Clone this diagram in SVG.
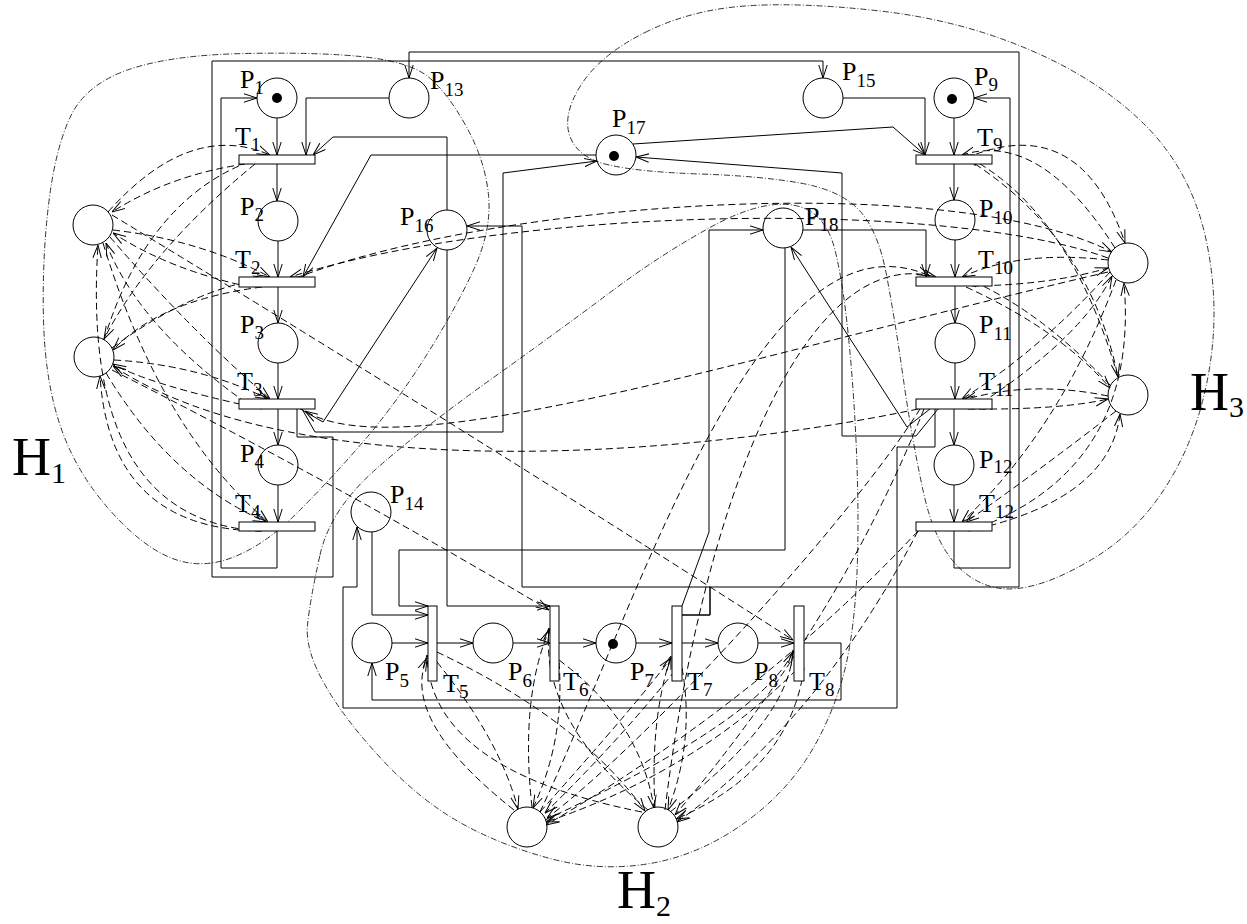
<svg xmlns="http://www.w3.org/2000/svg" width="1247" height="924" viewBox="0 0 1247 924">
<style>
.pl{fill:none;stroke:#000;stroke-width:1}
.tr{fill:#fff;stroke:#000;stroke-width:1}
.ln{fill:none;stroke:#000;stroke-width:1;marker-end:url(#ah)}
.da{fill:none;stroke:#000;stroke-width:1;stroke-dasharray:7 4;marker-end:url(#ah)}
.dd{fill:none;stroke:#333;stroke-width:1;stroke-dasharray:6 2 1 2}
.lb{font-family:"Liberation Serif",serif;font-size:26px;fill:#000}
.sb{font-size:19px}
.hl{font-family:"Liberation Serif",serif;font-size:54px;fill:#000}
.hs{font-size:30px}
</style>
<defs>
<marker id="ah" viewBox="0 0 13 10" refX="13" refY="5" markerWidth="13" markerHeight="10" markerUnits="userSpaceOnUse" orient="auto">
<path d="M0,0.8 L13,5 L0,9.2" fill="none" stroke="#000" stroke-width="1" stroke-dasharray="none"/>
</marker>
</defs>
<rect width="1247" height="924" fill="#fff"/>

<g id="boundaries">
<path id="H1-boundary" class="dd" d="M 428.5,77 Q 447,92 466,126 Q 485,160 488.5,195 Q 492,230 473.5,270 Q 455,310 425,357.5 Q 395,405 362.5,442.5 Q 330,480 297.5,512.5 Q 265,545 232.5,557.5 Q 200,570 170,557.5 Q 140,545 107.5,507.5 Q 75,470 60,425 Q 45,380 43.5,320 Q 42,260 48.5,205 Q 55,150 70,117.5 Q 85,85 127.5,70 Q 170,55 245,53.5 Q 320,52 365,57 Q 410,62 428.5,77 Z"/>
<path id="H2-boundary" class="dd" d="M 320,555 Q 330,510 375,470 Q 420,430 490,380 Q 560,330 610,292.5 Q 660,255 710,227.5 Q 760,200 792.5,205 Q 825,210 835,250 Q 845,290 851.5,370 Q 858,450 858,525 Q 858,600 849,650 Q 840,700 815,745 Q 790,790 745,822.5 Q 700,855 650,863.5 Q 600,872 550,858.5 Q 500,845 460,822.5 Q 420,800 382.5,760 Q 345,720 325,685 Q 305,650 307.5,625 Q 310,600 320,555 Z"/>
<path id="H3-boundary" class="dd" d="M 645,32.5 Q 690,10 745,6 Q 800,2 880,11 Q 960,20 1030,50 Q 1100,80 1145,125 Q 1190,170 1205,235 Q 1220,300 1210,365 Q 1200,430 1170,480 Q 1140,530 1095,557.5 Q 1050,585 1017.5,588.5 Q 985,592 960,568.5 Q 935,545 923.5,492.5 Q 912,440 903.5,380 Q 895,320 886.5,275 Q 878,230 859,210 Q 840,190 800,183 Q 760,176 700,174 Q 640,172 609,165 Q 578,158 570,136.5 Q 562,115 581,85 Q 600,55 645,32.5 Z"/>
</g>

<g id="connectors">
<path class="da" d="M 108,212 Q 190,120 270,155"/>
<path class="da" d="M 104,340 Q 150,190 266,156"/>
<path class="da" d="M 113,230 Q 200,240 270,277"/>
<path class="da" d="M 112,348 Q 190,290 266,278"/>
<path class="da" d="M 110,237 Q 190,330 270,399"/>
<path class="da" d="M 114,360 Q 200,365 268,399"/>
<path class="da" d="M 103,243 Q 160,430 268,522"/>
<path class="da" d="M 106,373 Q 170,480 266,522"/>
<path class="da" d="M 245,164 Q 170,175 112,212"/>
<path class="da" d="M 255,164 Q 150,250 104,339"/>
<path class="da" d="M 250,287 Q 170,270 113,233"/>
<path class="da" d="M 262,287 Q 160,300 113,350"/>
<path class="da" d="M 255,409 Q 140,330 106,243"/>
<path class="da" d="M 262,409 Q 150,385 113,364"/>
<path class="da" d="M 260,531 Q 80,520 98,245"/>
<path class="da" d="M 262,531 Q 110,530 100,376"/>
<path class="da" d="M 1115,248 Q 1040,130 962,155"/>
<path class="da" d="M 1118,377 Q 1070,210 966,156"/>
<path class="da" d="M 1108,260 Q 1020,250 962,277"/>
<path class="da" d="M 1110,385 Q 1040,310 966,278"/>
<path class="da" d="M 1110,272 Q 1040,350 962,399"/>
<path class="da" d="M 1108,396 Q 1030,380 964,400"/>
<path class="da" d="M 1116,280 Q 1060,430 962,522"/>
<path class="da" d="M 1116,411 Q 1040,470 966,522"/>
<path class="da" d="M 966,158 Q 1080,110 1125,243"/>
<path class="da" d="M 975,164 Q 1090,240 1118,377"/>
<path class="da" d="M 972,286 Q 1050,285 1108,268"/>
<path class="da" d="M 966,287 Q 1060,330 1110,388"/>
<path class="da" d="M 972,409 Q 1080,340 1112,276"/>
<path class="da" d="M 968,409 Q 1060,410 1108,399"/>
<path class="da" d="M 970,531 Q 1140,470 1124,283"/>
<path class="da" d="M 968,531 Q 1110,500 1120,414"/>
<path class="da" d="M 514,810 Q 400,720 427,658"/>
<path class="da" d="M 642,812 Q 430,770 427,655"/>
<path class="da" d="M 532,807 Q 520,700 549,630"/>
<path class="da" d="M 648,810 Q 540,720 549,628"/>
<path class="da" d="M 540,812 Q 640,700 671,658"/>
<path class="da" d="M 655,807 Q 650,720 671,656"/>
<path class="da" d="M 545,820 Q 760,720 793,652"/>
<path class="da" d="M 670,812 Q 790,720 793,650"/>
<path class="da" d="M 437,662 Q 500,740 518,809"/>
<path class="da" d="M 437,652 Q 580,720 645,811"/>
<path class="da" d="M 559,662 Q 565,740 533,808"/>
<path class="da" d="M 559,660 Q 640,720 654,808"/>
<path class="da" d="M 682,662 Q 620,740 545,813"/>
<path class="da" d="M 682,668 Q 695,740 668,810"/>
<path class="da" d="M 804,662 Q 700,770 546,822"/>
<path class="da" d="M 804,668 Q 790,770 676,819"/>
<path class="da" d="M 296,278 C 500,200 950,170 1112,252"/>
<path class="da" d="M 1108,258 C 950,200 520,205 290,277"/>
<path class="da" d="M 1108,272 C 750,355 400,470 305,411"/>
<path class="da" d="M 918,409 C 700,455 300,490 113,366"/>
<path class="da" d="M 112,215 Q 450,420 793,640"/>
<path class="da" d="M 112,370 Q 330,480 549,610"/>
<path class="da" d="M 540,812 C 640,600 760,200 930,276"/>
<path class="da" d="M 665,810 C 700,520 800,240 936,277"/>
<path class="da" d="M 920,409 C 850,520 650,740 547,818"/>
<path class="da" d="M 924,409 Q 840,620 675,815"/>
<path class="da" d="M 918,531 Q 760,700 546,825"/>
<path class="da" d="M 918,531 Q 820,720 677,822"/>

<path class="ln" d="M 277,118 L 277,155"/>
<path class="ln" d="M 277,164 L 277,201"/>
<path class="ln" d="M 278,241 L 278,277"/>
<path class="ln" d="M 278,287 L 278,323"/>
<path class="ln" d="M 278,363 L 278,399"/>
<path class="ln" d="M 278,409 L 278,445"/>
<path class="ln" d="M 278,485 L 278,522"/>
<path class="ln" d="M 954,118 L 954,155"/>
<path class="ln" d="M 954,164 L 954,200"/>
<path class="ln" d="M 955,240 L 955,277"/>
<path class="ln" d="M 955,286 L 955,323"/>
<path class="ln" d="M 955,363 L 955,399"/>
<path class="ln" d="M 954,409 L 954,445"/>
<path class="ln" d="M 954,485 L 954,522"/>
<path class="ln" d="M 392,643 L 428,643"/>
<path class="ln" d="M 437,643 L 473,643"/>
<path class="ln" d="M 513,643 L 550,643"/>
<path class="ln" d="M 559,643 L 596,643"/>
<path class="ln" d="M 636,643 L 672,643"/>
<path class="ln" d="M 682,643 L 718,643"/>
<path class="ln" d="M 758,643 L 794,643"/>
<path class="ln" d="M 596,155 L 371,155 L 303,277"/>
<path class="ln" d="M 302,409 L 315,432 L 503,432 L 503,173 L 597,161"/>
<path class="ln" d="M 633,144 L 893,127 L 925,155"/>
<path class="ln" d="M 938,409 L 916,436 L 842,436 L 842,173 L 636,157"/>
<path class="ln" d="M 297,409 L 297,437 L 333,437 L 333,577 L 212,577 L 212,61 L 823,61 L 823,78"/>
<path class="ln" d="M 682,615 L 710,615 L 710,587 L 1019,587 L 1019,52 L 409,52 L 409,78"/>
<path class="ln" d="M 682,615 L 710,615 L 710,587 L 522,587 L 522,226 L 467,226"/>
<path class="ln" d="M 447,210 L 447,137 L 333,137 L 313,155"/>
<path class="ln" d="M 389,98 L 306,98 L 306,155"/>
<path class="ln" d="M 277,531 L 277,568 L 221,568 L 221,98 L 257,98"/>
<path class="ln" d="M 297,407 L 323,422 L 437,248"/>
<path class="ln" d="M 447,250 L 447,606 L 550,606"/>
<path class="ln" d="M 372,532 L 372,615 L 428,615"/>
<path class="ln" d="M 785,248 L 785,550 L 399,550 L 399,606 L 428,606"/>
<path class="ln" d="M 935,409 L 935,447 L 897,447 L 897,708 L 343,708 L 343,587 L 357,587 L 357,527"/>
<path class="ln" d="M 804,643 L 841,643 L 841,700 L 372,700 L 372,663"/>
<path class="ln" d="M 935,405 L 907,427 L 791,247"/>
<path class="ln" d="M 843,98 L 925,98 L 925,155"/>
<path class="ln" d="M 954,531 L 954,568 L 1010,568 L 1010,98 L 974,98"/>
<path class="ln" d="M 803,230 L 926,230 L 926,277"/>
<path class="ln" d="M 682,606 L 709,532 L 709,230 L 763,230"/>
</g>

<g id="P1"><circle class="pl" cx="277" cy="98" r="20"/><circle cx="277" cy="98" r="5"/><text class="lb" x="240" y="88">P<tspan class="sb" dy="6">1</tspan></text></g>
<g id="P2"><circle class="pl" cx="278" cy="221" r="20"/><text class="lb" x="240" y="215">P<tspan class="sb" dy="6">2</tspan></text></g>
<g id="P3"><circle class="pl" cx="278" cy="343" r="20"/><text class="lb" x="240" y="333">P<tspan class="sb" dy="6">3</tspan></text></g>
<g id="P4"><circle class="pl" cx="278" cy="465" r="20"/><text class="lb" x="240" y="462">P<tspan class="sb" dy="6">4</tspan></text></g>
<g id="T1"><rect class="tr" x="239" y="155" width="76" height="9"/><text class="lb" x="235" y="145">T<tspan class="sb" dy="6">1</tspan></text></g>
<g id="T2"><rect class="tr" x="239" y="277" width="76" height="10"/><text class="lb" x="235" y="268">T<tspan class="sb" dy="6">2</tspan></text></g>
<g id="T3"><rect class="tr" x="239" y="399" width="76" height="10"/><text class="lb" x="237" y="390">T<tspan class="sb" dy="6">3</tspan></text></g>
<g id="T4"><rect class="tr" x="239" y="522" width="76" height="9"/><text class="lb" x="235" y="512">T<tspan class="sb" dy="6">4</tspan></text></g>
<g id="P13"><circle class="pl" cx="409" cy="98" r="20"/><text class="lb" x="430" y="89">P<tspan class="sb" dy="7">13</tspan></text></g>
<g id="P16"><circle class="pl" cx="447" cy="230" r="20"/><text class="lb" x="400" y="225">P<tspan class="sb" dy="7">16</tspan></text></g>
<g id="P17"><circle class="pl" cx="616" cy="155" r="20"/><circle cx="614" cy="156" r="5"/><text class="lb" x="612" y="127">P<tspan class="sb" dy="7">17</tspan></text></g>
<g id="P15"><circle class="pl" cx="823" cy="98" r="20"/><text class="lb" x="842" y="80">P<tspan class="sb" dy="7">15</tspan></text></g>
<g id="P18"><circle class="pl" cx="783" cy="228" r="20"/><text class="lb" x="805" y="225">P<tspan class="sb" dy="6">18</tspan></text></g>
<g id="P14"><circle class="pl" cx="371" cy="512" r="20"/><text class="lb" x="390" y="503">P<tspan class="sb" dy="7">14</tspan></text></g>
<g id="P9"><circle class="pl" cx="954" cy="98" r="20"/><circle cx="952" cy="99" r="5"/><text class="lb" x="974" y="85">P<tspan class="sb" dy="6">9</tspan></text></g>
<g id="P10"><circle class="pl" cx="955" cy="220" r="20"/><text class="lb" x="979" y="217">P<tspan class="sb" dy="7">10</tspan></text></g>
<g id="P11"><circle class="pl" cx="955" cy="343" r="20"/><text class="lb" x="979" y="333">P<tspan class="sb" dy="7">11</tspan></text></g>
<g id="P12"><circle class="pl" cx="954" cy="465" r="20"/><text class="lb" x="979" y="468">P<tspan class="sb" dy="5">12</tspan></text></g>
<g id="T9"><rect class="tr" x="916" y="155" width="76" height="9"/><text class="lb" x="977" y="146">T<tspan class="sb" dy="5">9</tspan></text></g>
<g id="T10"><rect class="tr" x="916" y="277" width="76" height="9"/><text class="lb" x="978" y="268">T<tspan class="sb" dy="6">10</tspan></text></g>
<g id="T11"><rect class="tr" x="916" y="399" width="76" height="10"/><text class="lb" x="979" y="390">T<tspan class="sb" dy="6">11</tspan></text></g>
<g id="T12"><rect class="tr" x="916" y="522" width="76" height="9"/><text class="lb" x="979" y="512">T<tspan class="sb" dy="6">12</tspan></text></g>
<g id="P5"><circle class="pl" cx="372" cy="643" r="20"/><text class="lb" x="385" y="680">P<tspan class="sb" dy="7">5</tspan></text></g>
<g id="P6"><circle class="pl" cx="493" cy="643" r="20"/><text class="lb" x="508" y="680">P<tspan class="sb" dy="7">6</tspan></text></g>
<g id="P7"><circle class="pl" cx="616" cy="643" r="20"/><circle cx="613" cy="644" r="5"/><text class="lb" x="630" y="680">P<tspan class="sb" dy="7">7</tspan></text></g>
<g id="P8"><circle class="pl" cx="738" cy="643" r="20"/><text class="lb" x="754" y="680">P<tspan class="sb" dy="7">8</tspan></text></g>
<g id="T5"><rect class="tr" x="428" y="606" width="9" height="75"/><text class="lb" x="443" y="692">T<tspan class="sb" dy="6">5</tspan></text></g>
<g id="T6"><rect class="tr" x="550" y="606" width="9" height="75"/><text class="lb" x="563" y="690">T<tspan class="sb" dy="6">6</tspan></text></g>
<g id="T7"><rect class="tr" x="672" y="606" width="10" height="75"/><text class="lb" x="687" y="690">T<tspan class="sb" dy="6">7</tspan></text></g>
<g id="T8"><rect class="tr" x="794" y="606" width="10" height="75"/><text class="lb" x="809" y="690">T<tspan class="sb" dy="6">8</tspan></text></g>
<g id="L1"><circle class="pl" cx="93" cy="225" r="20"/></g>
<g id="L2"><circle class="pl" cx="94" cy="357" r="20"/></g>
<g id="R1"><circle class="pl" cx="1128" cy="263" r="20"/></g>
<g id="R2"><circle class="pl" cx="1128" cy="395" r="20"/></g>
<g id="B1"><circle class="pl" cx="527" cy="827" r="20"/></g>
<g id="B2"><circle class="pl" cx="658" cy="827" r="20"/></g>
<g id="H1"><text class="hl" x="12" y="475">H<tspan class="hs" dy="8">1</tspan></text></g>
<g id="H2"><text class="hl" x="617" y="908">H<tspan class="hs" dy="8">2</tspan></text></g>
<g id="H3"><text class="hl" x="1190" y="410">H<tspan class="hs" dy="7">3</tspan></text></g>
</svg>
